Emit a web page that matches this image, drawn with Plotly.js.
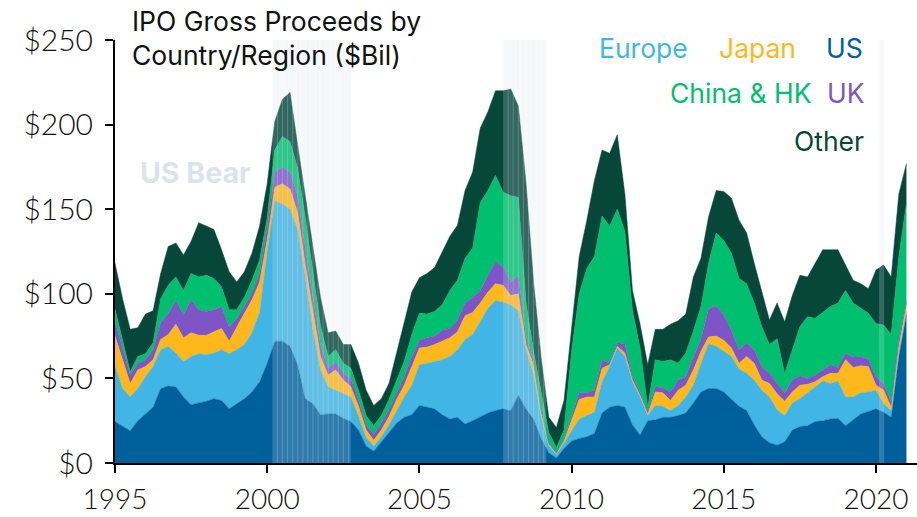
<!DOCTYPE html>
<html>
<head>
<meta charset="utf-8">
<script src="https://cdn.plot.ly/plotly-3.0.1.min.js"></script>
<style>html,body{margin:0;padding:0;background:#fff;}#chart{width:917px;height:517px;}</style>
</head>
<body>
<div id="chart"></div>
<script>
// Quarterly time points (decimal years)
const years = [1995,1995.25,1995.5,1995.75,1996,1996.25,1996.5,1996.75,1997,1997.25,1997.5,1997.75,1998,1998.25,1998.5,1998.75,1999,1999.25,1999.5,1999.75,
2000,2000.25,2000.5,2000.75,2001,2001.25,2001.5,2001.75,2002,2002.25,2002.5,2002.75,2003,2003.25,2003.5,2003.75,2004,2004.25,2004.5,
2004.75,2005,2005.25,2005.5,2005.75,2006,2006.25,2006.5,2006.75,2007,2007.25,2007.5,2007.75,2008,2008.25,2008.5,2008.75,2009,2009.25,
2009.5,2009.75,2010,2010.25,2010.5,2010.75,2011,2011.25,2011.5,2011.75,2012,2012.25,2012.5,2012.75,2013,2013.25,2013.5,2013.75,
2014,2014.25,2014.5,2014.75,2015,2015.25,2015.5,2015.75,2016,2016.25,2016.5,2016.75,2017,2017.25,2017.5,2017.75,2018,2018.25,2018.5,2018.75,2019,2019.25,2019.5,2019.75,2020,2020.25,2020.5,2020.75,2021];

const us = [24.5,21.5,19,25,29,33,44,45.5,45,39,34.5,35.5,36.5,38,37,32,35,38,42,48,
59,72,72,69,58,38,35,28.5,29,29,26.5,24.5,19.5,10,7,12.5,18.5,23.5,27,
28.5,34,33,32,28.5,26,27,23,25,27.5,29.5,31,32,31,40,32,26,14.5,6,
3,8.5,13,14.5,15.5,17.5,29.5,33,34,33,22.5,16.5,25,25.5,27,27,28,29.5,
35.5,42,44,44,42,37.5,33.5,31,22.5,15.5,12,10.5,12.5,19.5,21.5,22,24.5,25,26,26.5,22,25.5,29,30.5,32,30,27,63,87.5];

const europe = [32.5,22.5,20,19,22,24,23,23.5,20,21,28.5,29,27.5,27,30,32.5,32,32,35,41,
66,83,81,81,80,72,44,26.5,16,14,14.5,14.5,8,5,3,3,4,7,12,
17.5,24,26,28,32.5,37,40,50,51,56,62,65,63,62.5,50,35,26,12.5,4,
2,3,6,11.5,12.5,12.5,18.5,24,34,30,25.5,22.5,3,8.5,6.5,4,6,9.5,
10.5,17,26.5,25,24,25.5,22,22,26.5,27.5,27,21,15.5,16,16.5,19.5,20.5,23.5,21,22,17,13.5,12.5,11.5,11,5,4,2,2];

const japan = [18,17,8,11,6,4,6,7,17,14,14,11,11.5,12.5,12.5,7.5,13.5,18.5,19.5,18,
7,8,12,12,10,7,11,8,7,12,8,6,6,4.5,3.5,4,5,7,7,
11,10,9.5,10,11,11,10.5,14,13,11,9.5,10,10,5.5,10,3,6,2,1,
0.5,1.5,6,11.5,11,9,8,1,1,2,1,1,1,8,8,6,9,7,
9,7,4,6,6.5,5,3.5,10,10,6,8,9.5,8.5,6.5,8,5,3,2.5,6,4.5,22,17.5,16,15,3,8,2,4,4];

const uk = [8.5,7,5,4,4,6,10,12.5,14,13.5,19.5,15,14,13,13,8.5,5,4,4,5,
7,9,10,10,10,10,8,7,4,5,4,5,4,3,3.5,4,4,4,5,
6,4.5,5.5,5,6.5,5.5,7,7.5,9,7.5,10,13,11,8,11,5,2,2,1,
0.5,1,3,4,2.5,4,5,1,2,5.5,2,2,1,3,3,5,6,5,
7.5,7.5,16.5,18,15,10.5,8,8,8,8,6,6,5,7,5.5,3.5,4,4,5,3.5,4,6,5.5,4.5,5,4,3,4,2];

const chinaHK = [7.5,4,2,4,3.5,4,14,16.5,14,14.5,15.5,19.5,21.5,18.5,11.5,10,5,5.5,7.5,8,
6,13,18,18,16,18,14,11,7,7,6,6,5.5,5.5,5,4.5,6,7.5,9,
13,16,14,14.5,15,22.5,23.5,26.5,29,52,50,51,44,51,46,20,6,10,6,
3,5.5,38,58.5,73.5,79,85,81,79,66.5,39,26,3,16,15.5,19,10,14,
15.5,19,27,43,44,45.5,42,35,27.5,23.5,17,26.5,11.5,18,29,36.5,33.5,34,34.5,38,37,32,28.5,27,31.5,34.5,40,49,58];

const other = [27,25,25,17,23.5,19,15,23,20,21,19,32,29,29,22,22.5,16.5,15,16,20,
20,17,22,29,14,13,16,17,14,11,11,14,16,15,12,10,9.5,16,22,
25,21,24,26,31.5,32,32.5,40,45,44,46.5,50,60,63,54,71,41,21,9,
12,17.5,14,22,28.5,45,39,43,44,22,12,14,25,18,19,21,25,23,
32,28.5,27.5,25,29,32.5,34.5,30,23.5,21.5,14.5,21,30.5,32,30.5,23.5,32.5,37,33.5,31.5,15,13.5,14.5,14.5,31.5,35.5,34,37,23.5];

const seriesNames = ["US","Europe","Japan","UK","China & HK","Other"];
const seriesData = [us, europe, japan, uk, chinaHK, other];
const seriesColors = ["#00609c","#41b6e6","#ffb81c","#7d55c7","#00bf6f","#06473a"];

// US bear market periods
const bearStarts = [2000.17, 2007.75, 2020.1];
const bearEnds = [2002.75, 2009.17, 2020.27];

const tickYears = [1995,2000,2005,2010,2015,2020];
const yTicks = [0,50,100,150,200,250];

const FONT = "Inter, Lato, sans-serif";

const traces = seriesData.map((vals, k) => ({
  x: years, y: vals, name: seriesNames[k], type: "scatter", mode: "lines",
  stackgroup: "one", line: {width: 0.5, color: seriesColors[k], shape: "linear"},
  fillcolor: seriesColors[k], hoverinfo: "skip"
}));

const shapes = [];
bearStarts.forEach((s, k) => {
  shapes.push({
    type: "rect", xref: "x", yref: "paper", x0: s, x1: bearEnds[k], y0: 0, y1: 1,
    fillcolor: "rgba(215,222,232,0.22)", line: {width: 0}, layer: "above"
  });
  // faint striping inside the shaded band
  for (let t = s + 1/6; t < bearEnds[k] - 0.05; t += 1/6) {
    shapes.push({
      type: "line", xref: "x", yref: "paper", x0: t, x1: t, y0: 0, y1: 1,
      line: {width: 1, color: "rgba(235,240,246,0.22)"}, layer: "above"
    });
  }
});

const legendItems = [
  {text: "Europe", color: "#41b6e6", x: 690, y: 48},
  {text: "Japan", color: "#ffb81c", x: 798, y: 48},
  {text: "US", color: "#00609c", x: 865, y: 48},
  {text: "China & HK", color: "#00bf6f", x: 814, y: 93},
  {text: "UK", color: "#7d55c7", x: 867, y: 93},
  {text: "Other", color: "#06473a", x: 866, y: 141}
];
const L = 115, T = 40, W = 802, H = 423;
const annotations = legendItems.map(it => ({
  text: it.text, xref: "paper", yref: "paper",
  x: (it.x - L) / W, y: 1 - (it.y - T) / H, xanchor: "right", yanchor: "middle",
  showarrow: false, font: {family: FONT, size: 26.5, color: it.color}
}));
annotations.push({
  text: "IPO Gross Proceeds by<br>Country/Region ($Bil)", xref: "paper", yref: "paper",
  x: (130 - L) / W, y: 1 - (3 - T) / H, xanchor: "left", yanchor: "top", align: "left",
  showarrow: false, font: {family: FONT, size: 26.5, color: "#111"}
});
annotations.push({
  text: "<b>US Bear</b>", xref: "paper", yref: "paper",
  x: (138 - L) / W, y: 1 - (172 - T) / H, xanchor: "left", yanchor: "middle",
  showarrow: false, font: {family: FONT, size: 28.5, color: "#dde3ea"}
});

const yTickFont = {family: "Lato, Inter, sans-serif", size: 30, color: "#111", weight: 300};
const xTickFont = {family: "Lato, Inter, sans-serif", size: 28, color: "#111", weight: 300};
const layout = {
  width: 917, height: 517,
  margin: {l: L, r: 0, t: T, b: 54, pad: 0},
  paper_bgcolor: "#fff", plot_bgcolor: "#fff",
  showlegend: false, hovermode: false,
  xaxis: {
    range: [1995, 1995 + W / 30.44], tickvals: tickYears, ticktext: tickYears.map(String),
    showgrid: false, zeroline: false, showline: true, linecolor: "#000", linewidth: 2,
    ticks: "outside", ticklen: 8, tickwidth: 2, tickcolor: "#000",
    ticklabelstandoff: 2, tickfont: xTickFont
  },
  yaxis: {
    range: [0, 250], tickvals: yTicks, ticktext: yTicks.map(v => "$" + v),
    showgrid: false, zeroline: false, showline: true, linecolor: "#000", linewidth: 2,
    ticks: "outside", ticklen: 8, tickwidth: 2, tickcolor: "#000",
    ticklabelstandoff: 6, tickfont: yTickFont
  },
  shapes: shapes,
  annotations: annotations
};

Plotly.newPlot("chart", traces, layout, {displayModeBar: false, staticPlot: true});
</script>
</body>
</html>
